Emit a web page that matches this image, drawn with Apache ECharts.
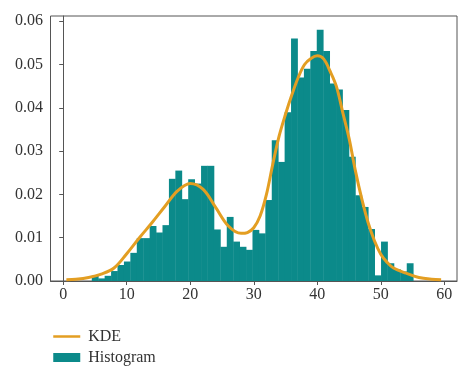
<!DOCTYPE html>
<html>
<head>
<meta charset="utf-8">
<script src="https://cdn.jsdelivr.net/npm/echarts@6/dist/echarts.min.js"></script>
<style>
  html, body { margin: 0; padding: 0; background: #fff; }
  #chart { width: 474px; height: 384px; }
</style>
</head>
<body>
<div id="chart"></div>
<script>
// Histogram: 50 bins of equal width starting at binStart
const binStart = 4.5;
const binWidth = 1.012;
const histValues = [
  0.0012, 0.0006, 0.0012, 0.0023, 0.0037, 0.0045, 0.0065, 0.0099, 0.0099, 0.0127,
  0.0112, 0.0129, 0.0236, 0.0255, 0.0189, 0.0235, 0.0225, 0.0266, 0.0266, 0.0119,
  0.0079, 0.0148, 0.0091, 0.0079, 0.0072, 0.0118, 0.0110, 0.0187, 0.0325, 0.0275,
  0.0390, 0.0560, 0.0470, 0.0490, 0.0531, 0.0580, 0.0531, 0.0456, 0.0442, 0.0395,
  0.0287, 0.0198, 0.0171, 0.0120, 0.0013, 0.0091, 0.0041, 0.0027, 0.0022, 0.0041
];
// KDE curve
const kdeX = [0.5, 2, 4, 6, 8, 10, 12, 14, 16, 18, 20, 22, 24, 26, 28, 29, 30, 31, 32, 33,
  34, 35, 36, 37, 38, 39, 40, 41, 42, 43, 44, 45, 46, 47, 48, 49, 50, 51, 52, 54, 56, 58, 59.5];
const kdeY = [0.0003, 0.0004, 0.0008, 0.0016, 0.0030, 0.0063, 0.0100, 0.0135, 0.0172, 0.0208,
  0.0225, 0.0212, 0.0170, 0.0127, 0.0110, 0.0112, 0.0123, 0.0150, 0.0200, 0.0270,
  0.0335, 0.0385, 0.0430, 0.0470, 0.0500, 0.0514, 0.0520, 0.0513, 0.0485, 0.0450,
  0.0390, 0.0330, 0.0255, 0.0190, 0.0135, 0.0093, 0.0062, 0.0043, 0.0030, 0.0018,
  0.0008, 0.0004, 0.0003];
const xTicks = [0, 10, 20, 30, 40, 50, 60];
const yTicks = [0, 0.01, 0.02, 0.03, 0.04, 0.05, 0.06];

const teal = '#0b8a8a';
const orange = '#e39e22';
const axisColor = '#555';
const font = 'Liberation Serif';

const histData = histValues.map((v, i) => [binStart + i * binWidth, binStart + (i + 1) * binWidth, v]);
const kdeData = kdeX.map((x, i) => [x, kdeY[i]]);

const chart = echarts.init(document.getElementById('chart'), null, { renderer: 'canvas' });
chart.setOption({
  animation: false,
  backgroundColor: '#fff',
  grid: {
    left: 50.5, right: 17, top: 16, bottom: 103,
    show: true, borderColor: axisColor, borderWidth: 1, backgroundColor: 'transparent'
  },
  legend: {
    orient: 'vertical',
    left: 52, top: 328.5,
    padding: 0,
    itemWidth: 27, itemHeight: 9, itemGap: 5,
    textStyle: { fontFamily: font, fontSize: 16, color: '#333', lineHeight: 16, padding: [0, 0, 0, 3] },
    data: [
      { name: 'KDE', lineStyle: { color: orange, width: 2.5 }, itemStyle: { opacity: 0, borderWidth: 0 } },
      { name: 'Histogram', icon: 'rect', itemStyle: { color: teal } }
    ]
  },
  xAxis: {
    type: 'value', min: -2, max: 62,
    axisLine: { show: true, lineStyle: { color: axisColor, width: 1 } },
    axisTick: { show: true, length: 4, lineStyle: { color: axisColor }, customValues: xTicks },
    axisLabel: { customValues: xTicks, margin: 6, fontFamily: font, fontSize: 16, color: '#333' },
    splitLine: { show: false }
  },
  yAxis: {
    type: 'value', min: 0, max: 0.0612,
    axisLine: { show: true, lineStyle: { color: axisColor, width: 1 } },
    axisTick: { show: true, length: 4, lineStyle: { color: axisColor }, customValues: yTicks },
    axisLabel: { customValues: yTicks, margin: 7.5, fontFamily: font, fontSize: 16, color: '#333',
      formatter: v => v.toFixed(2) },
    splitLine: { show: false }
  },
  series: [
    {
      name: 'Histogram',
      type: 'custom',
      color: teal,
      encode: { x: [0, 1], y: 2 },
      data: histData,
      z: 2,
      renderItem: function (params, api) {
        const p0 = api.coord([api.value(0), api.value(2)]);
        const p1 = api.coord([api.value(1), 0]);
        return {
          type: 'rect',
          shape: { x: p0[0], y: p0[1], width: p1[0] - p0[0] + 0.4, height: p1[1] - p0[1] },
          style: { fill: teal }
        };
      }
    },
    {
      name: 'KDE',
      type: 'line',
      color: orange,
      data: kdeData,
      smooth: 0.35,
      symbol: 'none',
      z: 5,
      lineStyle: { color: orange, width: 3 }
    }
  ]
});
</script>
</body>
</html>
